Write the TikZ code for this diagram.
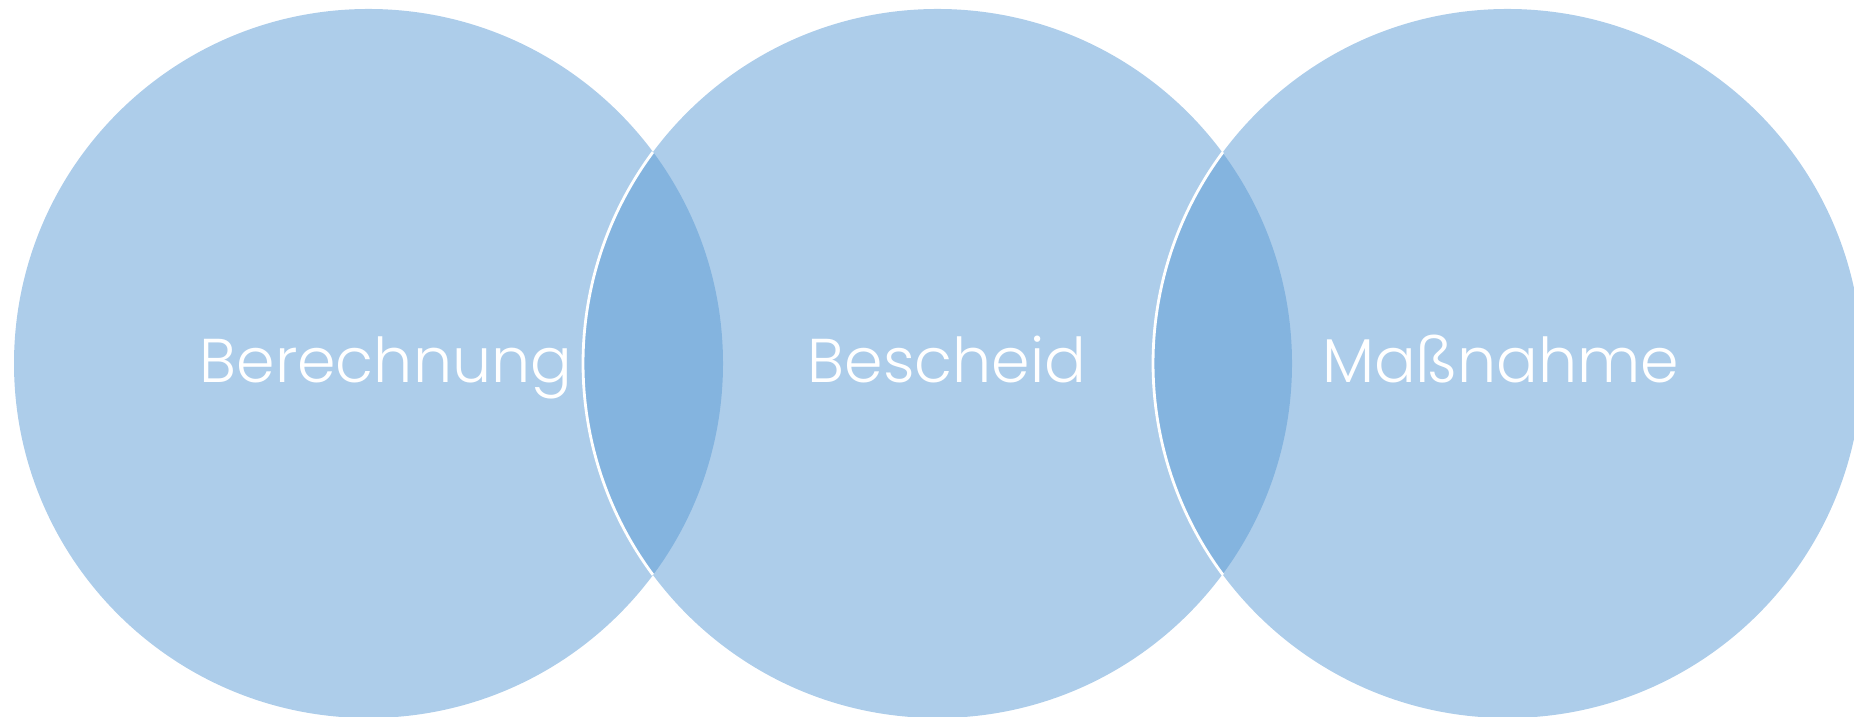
\documentclass[tikz,border=0pt]{standalone}
\usepackage{fontspec}
\setmainfont{Poppins}[UprightFont=* Light]
\usepackage{tikz}
\usetikzlibrary{positioning}
\definecolor{accent}{HTML}{5B9BD5}
\tikzset{venn/.style={fill=accent, fill opacity=0.5},
	rim/.style={draw=white, line width=0.8pt},
	word/.style={text=white, anchor=base, font=\fontsize{17.6}{21}\selectfont}}

\begin{document}
\begin{tikzpicture}
	\useasboundingbox (0,0) rectangle (18.54,7.17);
	\clip (0,0) rectangle (18.54,7.17);
	\fill[venn] (3.685,3.535) coordinate (c1) circle (3.545);
	\fill[venn] (9.375,3.535) coordinate (c2) circle (3.545);
	\fill[venn] (15.075,3.535) coordinate (c3) circle (3.545);
	\draw[rim] (c2) ++(143.4:3.545) arc (143.4:216.6:3.545);
	\draw[rim] (c3) ++(143.4:3.545) arc (143.4:216.6:3.545);
	\node[word] (berechnung) at (3.86,3.34) {Berechnung};
	\node[word] (bescheid) at (9.47,3.34) {Bescheid};
	\node[word] (massnahme) at (15.01,3.34) {Maßnahme};
\end{tikzpicture}
\end{document}
